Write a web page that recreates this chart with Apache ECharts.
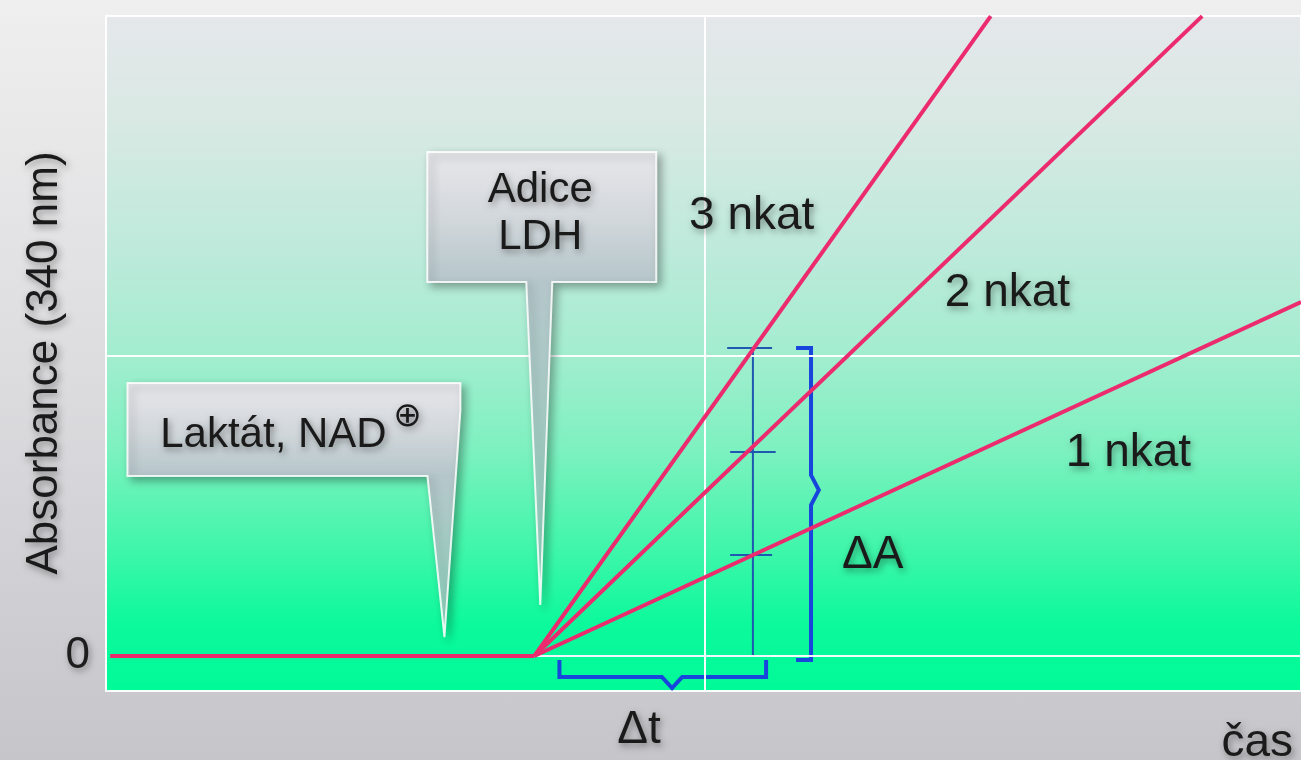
<!DOCTYPE html>
<html>
<head>
<meta charset="utf-8">
<script src="https://cdn.jsdelivr.net/npm/echarts@6/dist/echarts.min.js"></script>
<style>
html,body{margin:0;padding:0;}
#c{width:1301px;height:760px;background:linear-gradient(180deg,#efefef 0%,#dcdcdf 50%,#c6c6ca 100%);}
</style>
</head>
<body>
<div id="c"></div>
<script>
// ---------- data (time in arbitrary units, absorbance in arbitrary units) ----------
const baselineTime = [0.07, 7.15];
const baselineAbs = [0, 0];
const reactionStart = [7.15, 0];
const seriesNames = ['3 nkat', '2 nkat', '1 nkat'];
const seriesEnds = [[14.77, 21.33], [18.3, 21.33], [19.95, 11.8]];
const labelPos = [[10.78, 14.67], [15.05, 12.1], [17.07, 6.77]];
const gridLinesX = [10];
const gridLinesY = [10];
const zeroLineSpan = [7.15, 19.95];
const yTickLabels = [0];
// measurement annotation (ΔA at time tMeasure)
const tMeasure = 10.8;
const measureAbs = [10.27, 6.8, 3.37];
const tickSpans = [[10.37, 11.12], [10.42, 11.18], [10.42, 11.12]];
const deltaTLine = [[7.15, 0], [11.1, 0]];
const braceT = [[7.57, -0.13], [7.57, -0.7], [9.28, -0.7], [9.45, -1.07], [9.62, -0.7], [11.02, -0.7], [11.02, -0.13]];
const braceA = [[11.52, 10.27], [11.77, 10.27], [11.77, 6.03], [11.9, 5.53], [11.77, 5.03], [11.77, -0.13], [11.52, -0.13]];
const laktatTip = [5.65, 0.63];
const adiceTip = [7.25, 1.7];
const deltaALabel = [12.8, 3.37];
const deltaTLabel = [8.9, -2.47];
const casLabel = [19.22, -2.9];
const texts = { yName: 'Absorbance (340 nm)', xName: 'čas', dA: 'ΔA', dt: 'Δt', laktat: 'Laktát, NAD', plus: '⊕', adice: 'Adice', ldh: 'LDH' };

// ---------- chart ----------
const chart = echarts.init(document.getElementById('c'), null, { renderer: 'canvas' });
const pink = '#ec2b6f';
const blueThin = '#1f58b0';
const blueBrace = '#1846dc';

const series = [];
series.push({
  type: 'line', name: 'grid', data: [], z: 1, silent: true,
  markLine: {
    silent: true, symbol: ['none', 'none'], label: { show: false },
    lineStyle: { color: 'rgba(255,255,255,0.95)', width: 2, type: 'solid' },
    data: gridLinesX.map(v => ({ xAxis: v }))
      .concat(gridLinesY.map(v => ({ yAxis: v })))
      .concat([[{ coord: [zeroLineSpan[0], 0] }, { coord: [zeroLineSpan[1], 0] }]])
  }
});
series.push({
  type: 'line', name: 'baseline', z: 5, symbol: 'none',
  lineStyle: { color: pink, width: 4 },
  data: baselineTime.map((t, i) => [t, baselineAbs[i]])
});
seriesNames.forEach((n, i) => {
  series.push({
    type: 'line', name: n, z: 5, symbol: 'none',
    lineStyle: { color: pink, width: 4 },
    data: [reactionStart, seriesEnds[i]]
  });
});
function blue(data, color, width) {
  return { type: 'line', z: 3, symbol: 'none', silent: true, clip: false,
    lineStyle: { color: color, width: width, join: 'miter' }, data: data };
}
series.push(blue([[tMeasure, measureAbs[0]], [tMeasure, 0]], blueThin, 2));
measureAbs.forEach((a, i) => series.push(blue([[tickSpans[i][0], a], [tickSpans[i][1], a]], blueThin, 2)));
series.push(blue(deltaTLine, blueThin, 2));
series.push(blue(braceT, blueBrace, 4));
series.push(blue(braceA, blueBrace, 4));

const option = {
  backgroundColor: 'transparent',
  animation: false,
  grid: {
    left: 106, top: 16, right: -2, bottom: 69, show: true,
    borderColor: 'rgba(255,255,255,0.95)', borderWidth: 2,
    backgroundColor: {
      type: 'linear', x: 0, y: 0, x2: 0, y2: 1,
      colorStops: [
        { offset: 0, color: '#e5e7ea' },
        { offset: 0.15, color: '#d9e9e4' },
        { offset: 0.35, color: '#bdeadb' },
        { offset: 0.5, color: '#a3edcf' },
        { offset: 0.64, color: '#7ef1c0' },
        { offset: 0.79, color: '#3ff6aa' },
        { offset: 0.9, color: '#0cf99c' },
        { offset: 1, color: '#00fa98' }
      ]
    }
  },
  xAxis: {
    type: 'value', min: 0, max: 19.95,
    axisLine: { show: false }, axisTick: { show: false }, axisLabel: { show: false }, splitLine: { show: false }
  },
  yAxis: {
    type: 'value', min: -1.1667, max: 21.333,
    axisLine: { show: false }, axisTick: { show: false }, splitLine: { show: false },
    axisLabel: {
      show: true, customValues: yTickLabels, margin: 16,
      formatter: v => (yTickLabels.indexOf(v) >= 0 ? String(v) : ''),
      fontFamily: 'Liberation Sans', fontSize: 44, color: '#1e1e1e',
      textShadowColor: 'rgba(0,0,0,0.35)', textShadowBlur: 6, textShadowOffsetX: 2, textShadowOffsetY: 3
    }
  },
  series: series
};
chart.setOption(option);

// ---------- annotations positioned from data coordinates ----------
const px = p => chart.convertToPixel({ gridIndex: 0 }, p);
const shadowTxt = { textShadowColor: 'rgba(0,0,0,0.4)', textShadowBlur: 7, textShadowOffsetX: 2, textShadowOffsetY: 3 };
function txt(text, pos, size, extra, family) {
  return Object.assign({ type: 'text', z: 120, silent: true, x: pos[0], y: pos[1],
    style: Object.assign({ text: text, font: size + 'px ' + (family || '"Liberation Sans"'), fill: '#1a1a1a', align: 'center', verticalAlign: 'middle' }, shadowTxt) }, extra || {});
}
function callout(tip, rel, stop) {
  const pts = rel.map(r => [tip[0] + r[0], tip[1] + r[1]]);
  return {
    type: 'polygon', z: 110, silent: true,
    shape: { points: pts },
    style: {
      fill: new echarts.graphic.LinearGradient(0, 0, 0, 1, [
        { offset: 0, color: '#e7e7eb' },
        { offset: stop * 0.5, color: '#d3d8dc' },
        { offset: stop, color: '#b5c6ca' },
        { offset: 1, color: 'rgba(150,215,195,0.9)' }
      ]),
      stroke: 'rgba(255,255,255,0.85)', lineWidth: 2,
      shadowBlur: 9, shadowColor: 'rgba(0,0,0,0.32)', shadowOffsetX: 4, shadowOffsetY: 4
    }
  };
}
const lt = px(laktatTip);
const at = px(adiceTip);
const graphics = [];
graphics.push(callout(lt, [[-317, -254], [16, -254], [16, -227], [0, 0], [-17, -161], [-317, -161]], 93 / 254));
graphics.push(txt(texts.laktat, [lt[0] - 171, lt[1] - 202], 42));
graphics.push(txt(texts.plus, [lt[0] - 37, lt[1] - 220], 34, {}, '"DejaVu Sans"'));
graphics.push(callout(at, [[-113, -453], [116, -453], [116, -323], [12, -323], [0, 0], [-14, -323], [-113, -323]], 130 / 453));
graphics.push(txt(texts.adice, [at[0], at[1] - 415], 42));
graphics.push(txt(texts.ldh, [at[0], at[1] - 368], 42));
seriesNames.forEach((n, i) => graphics.push(txt(n, px(labelPos[i]), 46)));
graphics.push(txt(texts.dA, px(deltaALabel), 46));
graphics.push(txt(texts.dt, px(deltaTLabel), 46));
graphics.push(txt(texts.xName, px(casLabel), 46));
graphics.push(txt(texts.yName, [45, 363], 44, { rotation: Math.PI / 2 }));
chart.setOption({ graphic: { elements: graphics } });
</script>
</body>
</html>
